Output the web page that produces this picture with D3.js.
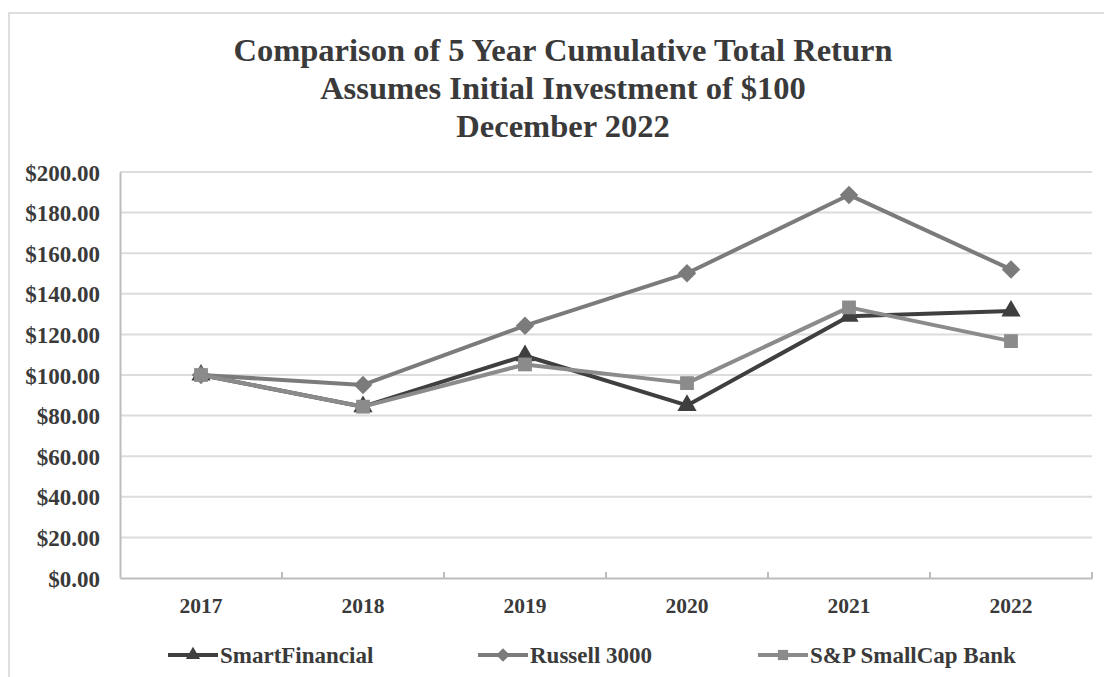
<!DOCTYPE html>
<html>
<head>
<meta charset="utf-8">
<script src="https://cdn.jsdelivr.net/npm/d3@7"></script>
<style>
  html, body { margin: 0; padding: 0; background: #fff; }
  svg { display: block; }
  text { font-family: "Liberation Serif", "Times New Roman", serif; font-weight: bold; fill: #3a3a3a; }
</style>
</head>
<body>
<svg id="chart"></svg>
<script>
const years = ["2017", "2018", "2019", "2020", "2021", "2022"]
const smartFinancial = [100, 84.4, 109.5, 85, 129, 131.5]
const russell3000 = [100, 95.1, 124.3, 150.1, 188.7, 152]
const spSmallCapBank = [100, 84.4, 105.2, 96, 133.3, 116.7]
const yTicks = [0, 20, 40, 60, 80, 100, 120, 140, 160, 180, 200]
const titleLines = ["Comparison of 5 Year Cumulative Total Return", "Assumes Initial Investment of $100", "December 2022"]

// square turned 45 degrees, as Excel draws its diamond marker
const wideDiamond = {
  draw(ctx, size) {
    const r = Math.sqrt(size / 2)
    ctx.moveTo(0, -r); ctx.lineTo(r, 0); ctx.lineTo(0, r); ctx.lineTo(-r, 0); ctx.closePath()
  }
}

const series = [
  {name: "SmartFinancial", values: smartFinancial, color: "#3f3f3f", symbol: d3.symbolTriangle, size: 160},
  {name: "Russell 3000", values: russell3000, color: "#7b7b7b", symbol: wideDiamond, size: 170},
  {name: "S&P SmallCap Bank", values: spSmallCapBank, color: "#8b8b8b", symbol: d3.symbolSquare, size: 190}
]

const W = 1104, H = 677
const svg = d3.select("#chart").attr("width", W).attr("height", H)

// outer frame
svg.append("rect")
  .attr("x", 9).attr("y", 13).attr("width", W + 20).attr("height", H + 20)
  .attr("fill", "none").attr("stroke", "#dedede").attr("stroke-width", 2)

// title
svg.append("g").selectAll("text")
  .data(titleLines)
  .enter().append("text")
    .attr("x", 563).attr("y", (_, i) => 61 + i * 38)
    .attr("text-anchor", "middle")
    .style("font-size", "32.5px")
    .text(d => d)

const plotL = 120, plotR = 1092, plotT = 172, plotB = 578

const x = d3.scaleBand().domain(years).range([plotL, plotR])
const y = d3.scaleLinear().domain([0, 200]).range([plotB, plotT])

// gridlines
svg.append("g").selectAll("line")
  .data(yTicks.filter(d => d > 0))
  .enter().append("line")
    .attr("x1", plotL).attr("x2", plotR)
    .attr("y1", d => y(d)).attr("y2", d => y(d))
    .attr("stroke", "#dcdcdc").attr("stroke-width", 2)

// y axis
const yAxis = svg.append("g")
  .attr("transform", `translate(${plotL},0)`)
  .call(d3.axisLeft(y).tickValues(yTicks).tickSize(0).tickPadding(20).tickFormat(d => "$" + d3.format(".2f")(d)))
yAxis.select(".domain").attr("stroke", "#bdbdbd").attr("stroke-width", 2)
yAxis.selectAll("text").style("font-size", "23px").attr("dy", "0.35em").attr("fill", "#3a3a3a")

// x axis with ticks between categories
const xAxis = svg.append("g")
  .attr("transform", `translate(0,${plotB})`)
  .call(d3.axisBottom(x).tickSize(0).tickPadding(20))
xAxis.select(".domain").attr("stroke", "#bdbdbd").attr("stroke-width", 2)
xAxis.selectAll("text").style("font-size", "21.5px").attr("fill", "#3a3a3a")
xAxis.selectAll("line.sep")
  .data(years)
  .enter().append("line").classed("sep", true)
    .attr("x1", d => x(d) + x.bandwidth()).attr("x2", d => x(d) + x.bandwidth())
    .attr("y1", 0).attr("y2", -6)
    .attr("stroke", "#bdbdbd").attr("stroke-width", 2)

const cx = d => x(d) + x.bandwidth() / 2
const line = d3.line().x((_, i) => cx(years[i])).y(d => y(d))

series.forEach(s => {
  const g = svg.append("g")
  g.append("path")
    .attr("d", line(s.values))
    .attr("fill", "none").attr("stroke", s.color).attr("stroke-width", 4)
    .attr("stroke-linejoin", "round")
  g.selectAll("path.mark")
    .data(s.values)
    .enter().append("path").classed("mark", true)
      .attr("d", d3.symbol().type(s.symbol).size(s.size))
      .attr("transform", (d, i) => `translate(${cx(years[i])},${y(d)})`)
      .attr("fill", s.color)
})

// legend
const legendX = [168, 478, 758]
const legend = svg.append("g").selectAll("g")
  .data(series)
  .enter().append("g")
    .attr("transform", (_, i) => `translate(${legendX[i]},655)`)
legend.append("line")
  .attr("x1", 0).attr("x2", 50)
  .attr("stroke", d => d.color).attr("stroke-width", 4)
legend.append("path")
  .attr("d", d => d3.symbol().type(d.symbol).size(d.size * 0.55)())
  .attr("transform", "translate(25,0)")
  .attr("fill", d => d.color)
legend.append("text")
  .attr("x", 52).attr("dy", "0.35em")
  .style("font-size", "23px")
  .text(d => d.name)
</script>
</body>
</html>
